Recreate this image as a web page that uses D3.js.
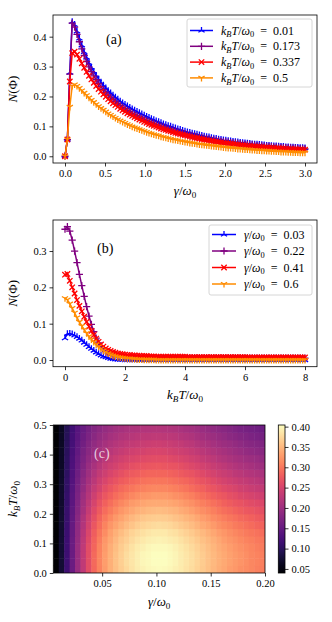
<!DOCTYPE html>
<html>
<head>
<meta charset="utf-8">
<script src="https://cdn.jsdelivr.net/npm/d3@7"></script>
<style>
body { margin: 0; background: #fff; }
svg text { font-family: "Liberation Serif", "DejaVu Serif", serif; fill: #000; }
</style>
</head>
<body>
<svg id="fig" width="332" height="622" font-family="Liberation Serif"></svg>
<script>
// ---------- panel (a): N vs gamma/omega0 ----------
const gammaA = [0,0.03,0.06,0.09,0.12,0.15,0.18,0.21,0.24,0.27,0.3,0.33,0.36,0.39,0.42,0.45,0.48,0.51,0.54,0.57,
  0.6,0.63,0.66,0.69,0.72,0.75,0.78,0.81,0.84,0.87,0.9,0.93,0.96,0.99,1.02,1.05,1.08,1.11,1.14,1.17,
  1.2,1.23,1.26,1.29,1.32,1.35,1.38,1.41,1.44,1.47,1.5,1.53,1.56,1.59,1.62,1.65,1.68,1.71,1.74,1.77,
  1.8,1.83,1.86,1.89,1.92,1.95,1.98,2.01,2.04,2.07,2.1,2.13,2.16,2.19,2.22,2.25,2.28,2.31,2.34,2.37,
  2.4,2.43,2.46,2.49,2.52,2.55,2.58,2.61,2.64,2.67,2.7,2.73,2.76,2.79,2.82,2.85,2.88,2.91,2.94,2.97,3.0];
const tempLabelsA = ["0.01", "0.173", "0.337", "0.5"];
const nA_T001 = [0,0.056,0.28,0.45,0.44,0.418,0.394,0.371,0.349,0.33,
  0.312,0.297,0.283,0.27,0.258,0.247,0.237,0.228,0.219,0.211,
  0.204,0.197,0.19,0.184,0.178,0.173,0.168,0.163,0.158,0.154,
  0.149,0.145,0.141,0.137,0.133,0.129,0.125,0.122,0.118,0.115,
  0.112,0.108,0.105,0.102,0.1,0.097,0.094,0.091,0.089,0.086,
  0.083,0.081,0.079,0.077,0.075,0.073,0.071,0.069,0.067,0.065,
  0.064,0.062,0.06,0.059,0.057,0.056,0.054,0.053,0.052,0.051,
  0.049,0.048,0.047,0.046,0.045,0.044,0.043,0.042,0.041,0.04,
  0.04,0.039,0.038,0.037,0.036,0.036,0.035,0.034,0.034,0.033,
  0.032,0.032,0.031,0.031,0.03,0.03,0.029,0.029,0.028,0.028,0.027];
const nA_T0173 = [0,0.056,0.275,0.445,0.432,0.408,0.383,0.359,0.337,0.317,
  0.299,0.283,0.269,0.256,0.244,0.233,0.223,0.214,0.205,0.197,
  0.19,0.183,0.176,0.17,0.164,0.159,0.154,0.149,0.144,0.14,
  0.136,0.132,0.128,0.124,0.12,0.117,0.113,0.11,0.107,0.104,
  0.101,0.098,0.095,0.092,0.09,0.087,0.085,0.082,0.08,0.078,
  0.076,0.074,0.072,0.07,0.068,0.066,0.064,0.063,0.061,0.059,
  0.058,0.056,0.055,0.053,0.052,0.051,0.049,0.048,0.047,0.046,
  0.045,0.044,0.043,0.042,0.041,0.04,0.039,0.038,0.038,0.037,
  0.036,0.035,0.035,0.034,0.033,0.033,0.032,0.031,0.031,0.03,
  0.03,0.029,0.029,0.028,0.028,0.027,0.027,0.026,0.026,0.025,0.025];
const nA_T0337 = [0,0.056,0.25,0.345,0.35,0.34,0.326,0.311,0.296,0.282,
  0.269,0.257,0.246,0.235,0.225,0.216,0.207,0.199,0.191,0.184,
  0.177,0.171,0.165,0.159,0.154,0.149,0.144,0.139,0.135,0.131,
  0.127,0.123,0.119,0.115,0.112,0.108,0.105,0.102,0.099,0.096,
  0.093,0.09,0.088,0.085,0.083,0.08,0.078,0.076,0.074,0.072,
  0.07,0.068,0.066,0.064,0.062,0.061,0.059,0.057,0.056,0.054,
  0.053,0.051,0.05,0.049,0.047,0.046,0.045,0.044,0.043,0.042,
  0.041,0.04,0.039,0.038,0.037,0.036,0.035,0.035,0.034,0.033,
  0.032,0.032,0.031,0.03,0.03,0.029,0.029,0.028,0.027,0.027,
  0.026,0.026,0.025,0.025,0.025,0.024,0.024,0.023,0.023,0.022,0.022];
const nA_T05 = [0,0.056,0.165,0.235,0.24,0.235,0.228,0.22,0.212,0.204,
  0.196,0.188,0.181,0.174,0.167,0.161,0.155,0.149,0.143,0.138,
  0.133,0.128,0.123,0.119,0.115,0.111,0.107,0.103,0.099,0.096,
  0.093,0.09,0.087,0.084,0.081,0.078,0.076,0.073,0.071,0.069,
  0.066,0.064,0.062,0.06,0.058,0.056,0.055,0.053,0.051,0.05,
  0.048,0.047,0.045,0.044,0.043,0.041,0.04,0.039,0.038,0.037,
  0.036,0.035,0.034,0.033,0.032,0.031,0.03,0.029,0.028,0.028,
  0.027,0.026,0.025,0.025,0.024,0.023,0.023,0.022,0.021,0.021,
  0.02,0.02,0.019,0.019,0.018,0.018,0.017,0.017,0.016,0.016,
  0.015,0.015,0.015,0.014,0.014,0.013,0.013,0.013,0.012,0.012,0.012];

// ---------- panel (b): N vs kBT/omega0 ----------
const tempB = [0,0.08,0.16,0.24,0.32,0.4,0.48,0.56,0.64,0.72,0.8,0.88,0.96,1.04,1.12,1.2,1.28,1.36,1.44,1.52,
  1.6,1.68,1.76,1.84,1.92,2,2.08,2.16,2.24,2.32,2.4,2.48,2.56,2.64,2.72,2.8,2.88,2.96,3.04,3.12,
  3.2,3.28,3.36,3.44,3.52,3.6,3.68,3.76,3.84,3.92,4,4.08,4.16,4.24,4.32,4.4,4.48,4.56,4.64,4.72,
  4.8,4.88,4.96,5.04,5.12,5.2,5.28,5.36,5.44,5.52,5.6,5.68,5.76,5.84,5.92,6,6.08,6.16,6.24,6.32,
  6.4,6.48,6.56,6.64,6.72,6.8,6.88,6.96,7.04,7.12,7.2,7.28,7.36,7.44,7.52,7.6,7.68,7.76,7.84,7.92,8];
const gammaLabelsB = ["0.03", "0.22", "0.41", "0.6"];
const nB_g003 = [0.06,0.072,0.073,0.071,0.068,0.064,0.059,0.054,0.048,0.042,
  0.036,0.031,0.026,0.021,0.017,0.013,0.01,0.008,0.006,0.004,
  0.003,0.002,0.001,0.001,0.001,0,0,0,0,0,
  0,0,0,0,0,0,0,0,0,0, 0,0,0,0,0,0,0,0,0,0, 0,0,0,0,0,0,0,0,0,0,
  0,0,0,0,0,0,0,0,0,0, 0,0,0,0,0,0,0,0,0,0, 0,0,0,0,0,0,0,0,0,0,
  0,0,0,0,0,0,0,0,0,0, 0];
const nB_g022 = [0.36,0.367,0.355,0.33,0.3,0.268,0.236,0.205,0.175,0.147,
  0.121,0.098,0.078,0.06,0.047,0.037,0.029,0.023,0.018,0.015,
  0.012,0.01,0.009,0.008,0.007,0.007,0.006,0.006,0.006,0.006,
  0.006,0.006,0.006,0.006,0.006,0.006,0.006,0.006,0.005,0.005,
  0.005,0.005,0.005,0.005,0.005,0.005,0.005,0.005,0.005,0.005,
  0.005,0.005,0.005,0.005,0.005,0.005,0.005,0.005,0.005,0.005,
  0.005,0.005,0.005,0.005,0.005,0.005,0.005,0.005,0.005,0.005,
  0.005,0.005,0.005,0.005,0.005,0.005,0.005,0.005,0.005,0.005,
  0.005,0.005,0.005,0.005,0.005,0.005,0.005,0.005,0.005,0.005,
  0.005,0.005,0.005,0.005,0.005,0.005,0.005,0.005,0.005,0.005,0.005];
const nB_g041 = [0.235,0.237,0.218,0.2,0.183,0.165,0.149,0.134,0.119,0.105,
  0.092,0.08,0.069,0.059,0.05,0.043,0.037,0.032,0.028,0.025,
  0.022,0.02,0.018,0.017,0.016,0.015,0.014,0.014,0.013,0.013,
  0.012,0.012,0.011,0.011,0.011,0.01,0.01,0.01,0.009,0.009,
  0.009,0.009,0.009,0.009,0.009,0.009,0.009,0.009,0.009,0.009,
  0.009,0.008,0.008,0.008,0.008,0.008,0.008,0.008,0.008,0.008,
  0.008,0.008,0.008,0.008,0.008,0.008,0.008,0.008,0.008,0.008,
  0.008,0.008,0.008,0.008,0.008,0.008,0.007,0.007,0.007,0.007,
  0.007,0.007,0.007,0.007,0.007,0.007,0.007,0.007,0.007,0.007,
  0.007,0.007,0.007,0.007,0.007,0.007,0.007,0.007,0.007,0.007,0.007];
const nB_g06 = [0.17,0.166,0.155,0.143,0.13,0.117,0.105,0.094,0.084,0.074,
  0.065,0.057,0.05,0.043,0.037,0.031,0.026,0.022,0.018,0.015,
  0.012,0.01,0.008,0.007,0.006,0.005,0.004,0.004,0.003,0.003,
  0.002,0.002,0.002,0.001,0.001,0.001,0.001,0.001,0,0,
  0,0,0,0,0,0,0,0,0,0, 0,0,0,0,0,0,0,0,0,0, 0,0,0,0,0,0,0,0,0,0,
  0,0,0,0,0,0,0,0,0,0, 0,0,0,0,0,0,0,0,0,0, 0,0,0,0,0,0,0,0,0,0, 0];

// ---------- panel (c): heatmap N(gamma, T) ----------
const gammaEdges = [0.005,0.01,0.015,0.02,0.025,0.03,0.035,0.04,0.045,0.05,0.055,0.06,0.065,0.07,0.075,0.08,0.085,0.09,0.095,0.1,
  0.105,0.11,0.115,0.12,0.125,0.13,0.135,0.14,0.145,0.15,0.155,0.16,0.165,0.17,0.175,0.18,0.185,0.19,0.195,0.2];
const tempEdges = [0,0.025,0.05,0.075,0.1,0.125,0.15,0.175,0.2,0.225,0.25,0.275,0.3,0.325,0.35,0.375,0.4,0.425,0.45,0.475,0.5];
// rows from T = 0 (bottom) to T = 0.5 (top)
const heatN = [
  [0.040,0.075,0.115,0.155,0.195,0.230,0.262,0.288,0.310,0.328,0.343,0.355,0.366,0.375,0.383,0.390,0.395,0.399,0.401,0.402,0.401,0.398,0.394,0.389,0.383,0.377,0.370,0.363,0.356,0.349,0.342,0.336,0.330,0.325,0.320,0.316,0.312,0.308,0.305],
  [0.040,0.075,0.115,0.155,0.196,0.231,0.263,0.289,0.311,0.329,0.344,0.357,0.368,0.377,0.385,0.392,0.397,0.401,0.403,0.404,0.403,0.400,0.396,0.391,0.385,0.379,0.372,0.365,0.358,0.351,0.344,0.338,0.332,0.327,0.322,0.318,0.313,0.309,0.306],
  [0.040,0.075,0.115,0.155,0.196,0.231,0.263,0.289,0.311,0.329,0.344,0.357,0.368,0.377,0.385,0.392,0.397,0.401,0.403,0.404,0.403,0.400,0.396,0.391,0.385,0.379,0.372,0.365,0.358,0.351,0.344,0.338,0.332,0.327,0.322,0.318,0.313,0.309,0.306],
  [0.040,0.075,0.115,0.155,0.195,0.230,0.262,0.287,0.309,0.327,0.342,0.354,0.365,0.374,0.382,0.389,0.394,0.398,0.400,0.401,0.400,0.397,0.393,0.388,0.382,0.376,0.369,0.362,0.355,0.348,0.341,0.335,0.329,0.324,0.319,0.315,0.311,0.307,0.304],
  [0.040,0.075,0.114,0.154,0.193,0.227,0.258,0.284,0.305,0.323,0.337,0.349,0.360,0.368,0.376,0.383,0.388,0.392,0.394,0.395,0.394,0.391,0.387,0.382,0.376,0.370,0.363,0.356,0.350,0.343,0.336,0.330,0.324,0.319,0.314,0.310,0.306,0.302,0.299],
  [0.040,0.074,0.113,0.152,0.190,0.224,0.254,0.279,0.300,0.317,0.332,0.343,0.353,0.362,0.370,0.376,0.381,0.385,0.387,0.388,0.387,0.384,0.380,0.375,0.369,0.363,0.357,0.350,0.343,0.336,0.329,0.324,0.318,0.313,0.308,0.304,0.300,0.296,0.293],
  [0.040,0.074,0.112,0.150,0.187,0.219,0.249,0.272,0.293,0.309,0.323,0.334,0.344,0.352,0.359,0.366,0.370,0.374,0.376,0.377,0.376,0.373,0.369,0.364,0.359,0.353,0.346,0.340,0.333,0.327,0.320,0.314,0.309,0.304,0.299,0.295,0.291,0.287,0.284],
  [0.040,0.073,0.111,0.148,0.183,0.215,0.243,0.266,0.285,0.301,0.314,0.325,0.334,0.342,0.349,0.355,0.360,0.363,0.365,0.366,0.365,0.362,0.358,0.354,0.348,0.343,0.336,0.330,0.323,0.317,0.311,0.305,0.299,0.295,0.290,0.286,0.282,0.278,0.275],
  [0.040,0.072,0.110,0.145,0.179,0.209,0.236,0.258,0.277,0.292,0.304,0.314,0.323,0.331,0.337,0.343,0.347,0.350,0.352,0.353,0.352,0.349,0.346,0.341,0.336,0.331,0.324,0.318,0.312,0.306,0.300,0.294,0.289,0.284,0.279,0.276,0.272,0.268,0.265],
  [0.040,0.071,0.108,0.142,0.175,0.204,0.229,0.250,0.268,0.282,0.294,0.304,0.312,0.319,0.326,0.331,0.335,0.338,0.340,0.340,0.339,0.337,0.333,0.329,0.324,0.319,0.313,0.307,0.301,0.295,0.289,0.283,0.278,0.273,0.269,0.265,0.261,0.258,0.255],
  [0.040,0.070,0.107,0.140,0.171,0.198,0.222,0.242,0.259,0.272,0.283,0.292,0.300,0.307,0.313,0.318,0.322,0.324,0.326,0.327,0.326,0.323,0.320,0.316,0.311,0.306,0.300,0.294,0.288,0.283,0.277,0.272,0.267,0.262,0.257,0.254,0.250,0.247,0.244],
  [0.040,0.070,0.105,0.137,0.167,0.192,0.215,0.234,0.249,0.262,0.272,0.281,0.289,0.295,0.300,0.305,0.308,0.311,0.312,0.313,0.312,0.309,0.306,0.302,0.298,0.293,0.287,0.282,0.276,0.271,0.265,0.260,0.255,0.251,0.246,0.243,0.239,0.236,0.233],
  [0.040,0.069,0.104,0.134,0.163,0.187,0.208,0.226,0.241,0.252,0.262,0.270,0.278,0.283,0.288,0.293,0.296,0.298,0.300,0.300,0.299,0.297,0.294,0.290,0.286,0.281,0.275,0.270,0.265,0.259,0.254,0.249,0.244,0.240,0.235,0.232,0.229,0.225,0.222],
  [0.040,0.068,0.102,0.132,0.159,0.182,0.202,0.218,0.232,0.243,0.252,0.260,0.267,0.272,0.277,0.280,0.284,0.286,0.287,0.287,0.286,0.284,0.281,0.277,0.273,0.269,0.264,0.258,0.253,0.248,0.243,0.238,0.234,0.229,0.225,0.222,0.218,0.215,0.212],
  [0.040,0.067,0.101,0.129,0.154,0.176,0.195,0.210,0.223,0.234,0.242,0.249,0.255,0.260,0.265,0.268,0.271,0.273,0.274,0.275,0.273,0.271,0.269,0.265,0.261,0.257,0.252,0.247,0.242,0.237,0.232,0.228,0.223,0.219,0.214,0.211,0.208,0.204,0.201],
  [0.040,0.067,0.100,0.127,0.151,0.171,0.189,0.203,0.215,0.225,0.233,0.240,0.245,0.250,0.254,0.257,0.260,0.261,0.263,0.263,0.262,0.260,0.257,0.254,0.250,0.245,0.241,0.236,0.231,0.227,0.222,0.217,0.213,0.209,0.205,0.201,0.198,0.195,0.192],
  [0.040,0.066,0.099,0.125,0.147,0.167,0.183,0.196,0.208,0.217,0.224,0.230,0.236,0.240,0.244,0.247,0.249,0.251,0.252,0.252,0.251,0.249,0.246,0.243,0.240,0.235,0.231,0.226,0.222,0.217,0.213,0.208,0.204,0.200,0.196,0.192,0.189,0.186,0.183],
  [0.040,0.065,0.097,0.122,0.144,0.162,0.177,0.190,0.200,0.209,0.216,0.221,0.226,0.230,0.233,0.236,0.239,0.240,0.241,0.241,0.240,0.238,0.236,0.232,0.229,0.225,0.220,0.216,0.212,0.207,0.203,0.199,0.195,0.191,0.187,0.183,0.180,0.177,0.174],
  [0.040,0.065,0.096,0.120,0.140,0.157,0.171,0.183,0.193,0.200,0.207,0.212,0.217,0.220,0.223,0.226,0.228,0.229,0.230,0.230,0.229,0.227,0.225,0.222,0.219,0.215,0.210,0.206,0.202,0.198,0.194,0.190,0.185,0.181,0.177,0.174,0.171,0.168,0.165],
  [0.040,0.064,0.095,0.118,0.137,0.153,0.166,0.177,0.186,0.193,0.199,0.204,0.208,0.211,0.214,0.216,0.218,0.219,0.220,0.220,0.219,0.217,0.215,0.212,0.209,0.205,0.201,0.197,0.193,0.189,0.185,0.181,0.177,0.173,0.169,0.166,0.163,0.160,0.157]
];

// ticks
const ticksAX = [0, 0.5, 1.0, 1.5, 2.0, 2.5, 3.0];
const ticksAY = [0, 0.1, 0.2, 0.3, 0.4];
const ticksBX = [0, 2, 4, 6, 8];
const ticksBY = [0, 0.1, 0.2, 0.3];
const ticksCX = [0.05, 0.10, 0.15, 0.20];
const ticksCY = [0, 0.1, 0.2, 0.3, 0.4, 0.5];
const ticksBar = [0.05, 0.10, 0.15, 0.20, 0.25, 0.30, 0.35, 0.40];

const seriesColors = ["#0000ff", "#800080", "#ff0000", "#ff8c00"];
const seriesMarkers = ["tri_up", "plus", "cross", "tri_down"];

const svg = d3.select("#fig");
const SERIF = "Liberation Serif";
const TICK_FS = 10.5, LAB_FS = 13, LEG_FS = 12;
const MK = 3.6;

function markerPath(kind, s) {
  const c = 0.866 * s, h = 0.5 * s;
  if (kind === "tri_up") return `M0,0V${-s}M0,0L${-c},${h}M0,0L${c},${h}`;
  if (kind === "tri_down") return `M0,0V${s}M0,0L${-c},${-h}M0,0L${c},${-h}`;
  if (kind === "plus") return `M${-s},0H${s}M0,${-s}V${s}`;
  const q = s * 0.75;
  return `M${-q},${-q}L${q},${q}M${-q},${q}L${q},${-q}`;
}

// math text: parts [string, kind]; kind "i" italic, "r" roman, "si"/"sr" subscript
function mathText(t, parts, size) {
  t.attr("font-family", SERIF);
  let down = false;
  parts.forEach(([s, k]) => {
    const ts = t.append("tspan").text(s);
    const sub = k[0] === "s";
    if (k.endsWith("i")) ts.attr("font-style", "italic");
    if (sub) {
      ts.attr("font-size", size * 0.7);
      if (!down) { ts.attr("dy", size * 0.22); down = true; }
    } else if (down) { ts.attr("dy", -size * 0.22); down = false; }
  });
  return t;
}
const kbtParts = [["k","i"],["B","si"],["T","i"],["/","r"],["ω","i"],["0","sr"]];
const gamParts = [["γ","i"],["/","r"],["ω","i"],["0","sr"]];
const nPhiParts = [["N","i"],["(Φ)","r"]];

function styleAxis(g) {
  g.select(".domain").remove();
  g.attr("font-family", SERIF).attr("font-size", TICK_FS);
  g.selectAll(".tick line").attr("stroke", "#000").attr("stroke-width", 0.8);
}

function linePanel(cfg) {
  const g = svg.append("g");
  const x = d3.scaleLinear().domain(cfg.xDom).range([cfg.left, cfg.right]);
  const y = d3.scaleLinear().domain(cfg.yDom).range([cfg.bottom, cfg.top]);
  const line = d3.line().x(d => x(d[0])).y(d => y(d[1]));

  cfg.series.forEach((vals, k) => {
    const pts = d3.zip(cfg.xs, vals);
    g.append("path").attr("d", line(pts)).attr("fill", "none")
      .attr("stroke", seriesColors[k]).attr("stroke-width", 1.5);
    g.append("g").selectAll("path").data(pts).join("path")
      .attr("transform", d => `translate(${x(d[0])},${y(d[1])})`)
      .attr("d", markerPath(seriesMarkers[k], MK))
      .attr("fill", "none").attr("stroke", seriesColors[k]).attr("stroke-width", 1.3);
  });

  g.append("g").attr("transform", `translate(0,${cfg.bottom})`)
    .call(d3.axisBottom(x).tickValues(cfg.xTicks).tickFormat(cfg.xFmt).tickSize(3.5).tickPadding(3))
    .call(styleAxis);
  g.append("g").attr("transform", `translate(${cfg.left},0)`)
    .call(d3.axisLeft(y).tickValues(cfg.yTicks).tickFormat(d3.format(".1f")).tickSize(3.5).tickPadding(3))
    .call(styleAxis);
  g.append("rect").attr("x", cfg.left).attr("y", cfg.top)
    .attr("width", cfg.right - cfg.left).attr("height", cfg.bottom - cfg.top)
    .attr("fill", "none").attr("stroke", "#000").attr("stroke-width", 0.8);

  mathText(g.append("text").attr("x", (cfg.left + cfg.right) / 2).attr("y", cfg.bottom + 32)
    .attr("text-anchor", "middle").attr("font-size", LAB_FS), cfg.xLabel, LAB_FS);
  mathText(g.append("text").attr("transform", `translate(17,${(cfg.top + cfg.bottom) / 2}) rotate(-90)`)
    .attr("text-anchor", "middle").attr("font-size", LAB_FS), nPhiParts, LAB_FS);
  g.append("text").attr("x", cfg.tagX).attr("y", cfg.tagY).attr("font-size", 14)
    .attr("font-family", SERIF).text(cfg.tag);

  // legend
  const L = cfg.legend;
  const lg = g.append("g");
  lg.append("rect").attr("x", L.x).attr("y", L.y).attr("width", L.w).attr("height", L.h)
    .attr("rx", 2).attr("fill", "#fff").attr("fill-opacity", 0.8)
    .attr("stroke", "#cccccc").attr("stroke-width", 0.8);
  cfg.labels.forEach((lab, k) => {
    const cy = L.y + L.row0 + k * L.step;
    lg.append("line").attr("x1", L.x + 3).attr("x2", L.x + 3 + L.hw).attr("y1", cy).attr("y2", cy)
      .attr("stroke", seriesColors[k]).attr("stroke-width", 1.5);
    lg.append("path").attr("transform", `translate(${L.x + 3 + L.hw / 2},${cy})`)
      .attr("d", markerPath(seriesMarkers[k], MK)).attr("fill", "none")
      .attr("stroke", seriesColors[k]).attr("stroke-width", 1.3);
    mathText(lg.append("text").attr("x", L.x + 3 + L.hw + 8).attr("y", cy + 4).attr("font-size", LEG_FS),
      cfg.legParts.concat([["\u2002=\u2002" + lab, "r"]]), LEG_FS);
  });
}

linePanel({
  left: 53, right: 317, top: 15, bottom: 163,
  xDom: [-0.15, 3.15], yDom: [-0.0225, 0.4725],
  xs: gammaA, series: [nA_T001, nA_T0173, nA_T0337, nA_T05],
  xTicks: ticksAX, xFmt: d3.format(".1f"), yTicks: ticksAY,
  xLabel: gamParts, tag: "(a)", tagX: 106, tagY: 44,
  labels: tempLabelsA, legParts: kbtParts,
  legend: { x: 187, y: 19, w: 125, h: 68, row0: 11.5, step: 15.8, hw: 23 }
});

linePanel({
  left: 53, right: 317, top: 220, bottom: 366.7,
  xDom: [-0.4, 8.4], yDom: [-0.0184, 0.3854],
  xs: tempB, series: [nB_g003, nB_g022, nB_g041, nB_g06],
  xTicks: ticksBX, xFmt: d3.format("d"), yTicks: ticksBY,
  xLabel: kbtParts, tag: "(b)", tagX: 97, tagY: 253,
  labels: gammaLabelsB, legParts: gamParts,
  legend: { x: 209, y: 225, w: 103, h: 70, row0: 9.5, step: 16.5, hw: 24 }
});

// ---------- heatmap ----------
(function () {
  const left = 53.3, right = 265, top = 425, bottom = 573;
  const g = svg.append("g");
  const x = d3.scaleLinear().domain([gammaEdges[0], gammaEdges[gammaEdges.length - 1]]).range([left, right]);
  const y = d3.scaleLinear().domain([tempEdges[0], tempEdges[tempEdges.length - 1]]).range([bottom, top]);
  const color = d3.scaleSequential(d3.interpolateMagma).domain(d3.extent(heatN.flat()));

  svg.append("clipPath").attr("id", "hclip").append("rect")
    .attr("x", left).attr("y", top).attr("width", right - left).attr("height", bottom - top);
  const cells = heatN.flatMap((row, j) => row.map((v, i) => ({ i, j, v })));
  g.append("g").attr("clip-path", "url(#hclip)").selectAll("rect").data(cells).join("rect")
    .attr("x", d => x(gammaEdges[d.i]))
    .attr("width", d => x(gammaEdges[d.i + 1]) - x(gammaEdges[d.i]) + 0.5)
    .attr("y", d => y(tempEdges[d.j + 1]))
    .attr("height", d => y(tempEdges[d.j]) - y(tempEdges[d.j + 1]) + 0.5)
    .attr("fill", d => color(d.v));

  g.append("g").attr("transform", `translate(0,${bottom})`)
    .call(d3.axisBottom(x).tickValues(ticksCX).tickFormat(d3.format(".2f")).tickSize(3.5).tickPadding(3))
    .call(styleAxis);
  g.append("g").attr("transform", `translate(${left},0)`)
    .call(d3.axisLeft(y).tickValues(ticksCY).tickFormat(d3.format(".1f")).tickSize(3.5).tickPadding(3))
    .call(styleAxis);
  g.append("rect").attr("x", left).attr("y", top).attr("width", right - left).attr("height", bottom - top)
    .attr("fill", "none").attr("stroke", "#000").attr("stroke-width", 0.8);

  g.append("text").attr("x", 94).attr("y", 458).attr("font-size", 14).attr("font-family", SERIF)
    .style("fill", "rgba(255,255,255,0.75)").text("(c)");

  mathText(g.append("text").attr("x", (left + right) / 2).attr("y", bottom + 33)
    .attr("text-anchor", "middle").attr("font-size", LAB_FS), gamParts, LAB_FS);
  mathText(g.append("text").attr("transform", `translate(17,${(top + bottom) / 2}) rotate(-90)`)
    .attr("text-anchor", "middle").attr("font-size", LAB_FS), kbtParts, LAB_FS);

  // colorbar
  const cbL = 278.3, cbR = 285;
  const cb = d3.scaleLinear().domain(color.domain()).range([bottom, top]);
  const grad = svg.append("defs").append("linearGradient").attr("id", "cbgrad")
    .attr("x1", 0).attr("x2", 0).attr("y1", 1).attr("y2", 0);
  d3.range(0, 1.0001, 0.05).forEach(t => {
    grad.append("stop").attr("offset", t).attr("stop-color", d3.interpolateMagma(t));
  });
  g.append("rect").attr("x", cbL).attr("y", top).attr("width", cbR - cbL).attr("height", bottom - top)
    .attr("fill", "url(#cbgrad)").attr("stroke", "#000").attr("stroke-width", 0.8);
  g.append("g").attr("transform", `translate(${cbR},0)`)
    .call(d3.axisRight(cb).tickValues(ticksBar).tickFormat(d3.format(".2f")).tickSize(3.5).tickPadding(3))
    .call(styleAxis);
})();
</script>
</body>
</html>
